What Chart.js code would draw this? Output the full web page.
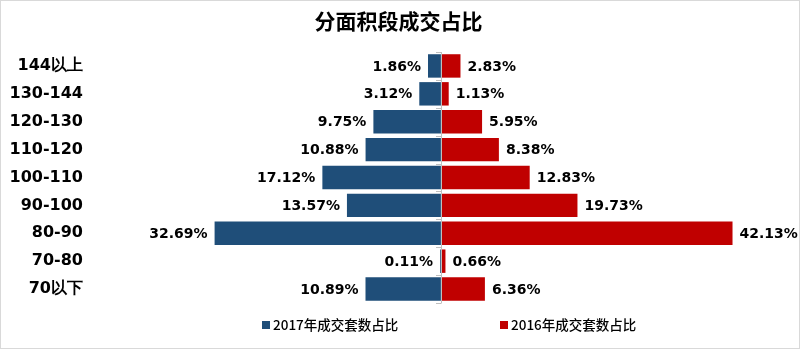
<!DOCTYPE html>
<html>
<head>
<meta charset="utf-8">
<script src="https://cdn.jsdelivr.net/npm/chart.js@4"></script>
<style>
  html, body { margin: 0; padding: 0; background: #fff; }
  #wrap { width: 800px; height: 349px; position: relative; }
</style>
</head>
<body>
<div id="wrap"><canvas id="c" width="800" height="349"></canvas></div>
<script>
// 面积段
const categories = ['144以上', '130-144', '120-130', '110-120', '100-110', '90-100', '80-90', '70-80', '70以下'];
const share2017 = [1.86, 3.12, 9.75, 10.88, 17.12, 13.57, 32.69, 0.11, 10.89];
const share2016 = [2.83, 1.13, 5.95, 8.38, 12.83, 19.73, 42.13, 0.66, 6.36];
const seriesNames = ['2017年成交套数占比', '2016年成交套数占比'];
const seriesColors = ['#1F4E79', '#C00000'];

const labelFont = 'bold 14px "DejaVu Sans", Verdana, sans-serif';

// 数值标签 + 中轴线 + 图例 + 外框
const extras = {
    id: 'extras',
    afterDatasetsDraw(chart) {
        const ctx = chart.ctx;
        const x = chart.scales.x;
        const x0 = Math.round(x.getPixelForValue(0));
        ctx.save();
        // 中轴线和刻度
        ctx.strokeStyle = '#BFBFBF';
        ctx.lineWidth = 1;
        ctx.beginPath();
        ctx.moveTo(x0 + 0.5, chart.chartArea.top);
        ctx.lineTo(x0 + 0.5, chart.chartArea.bottom);
        const step = (chart.chartArea.bottom - chart.chartArea.top) / categories.length;
        for (let i = 0; i <= categories.length; i++) {
            const yy = Math.round(chart.chartArea.top + i * step) + 0.5;
            ctx.moveTo(x0 - 5, yy);
            ctx.lineTo(x0 + 0.5, yy);
        }
        ctx.stroke();

        ctx.font = labelFont;
        ctx.fillStyle = '#000';
        ctx.textBaseline = 'middle';
        chart.data.datasets.forEach((ds, di) => {
            chart.getDatasetMeta(di).data.forEach((bar, i) => {
                const v = Math.abs(ds.data[i]);
                const txt = v.toFixed(2) + '%';
                if (ds.data[i] < 0) {
                    ctx.textAlign = 'right';
                    ctx.fillText(txt, bar.x - 7, bar.y + 1);
                } else {
                    ctx.textAlign = 'left';
                    ctx.fillText(txt, bar.x + 7, bar.y + 1);
                }
            });
        });

        // 图例
        ctx.font = '500 13.5px "Noto Sans CJK SC", sans-serif';
        ctx.textAlign = 'left';
        const legendY = 325;
        const legendX = [262, 500];
        seriesNames.forEach((name, i) => {
            ctx.fillStyle = seriesColors[i];
            ctx.fillRect(legendX[i], legendY - 4, 8, 8);
            ctx.fillStyle = '#000';
            ctx.fillText(name, legendX[i] + 11, legendY);
        });

        ctx.strokeStyle = '#D9D9D9';
        ctx.strokeRect(0.5, 0.5, chart.width - 1, chart.height - 1);
        ctx.restore();
    }
};

new Chart(document.getElementById('c').getContext('2d'), {
    type: 'bar',
    data: {
        labels: categories,
        datasets: [
            {
                label: seriesNames[0],
                data: share2017.map(v => -v),
                backgroundColor: seriesColors[0],
                borderWidth: 0
            },
            {
                label: seriesNames[1],
                data: share2016,
                backgroundColor: seriesColors[1],
                borderWidth: 0
            }
        ]
    },
    options: {
        indexAxis: 'y',
        responsive: false,
        animation: false,
        barPercentage: 0.84,
        categoryPercentage: 1,
        layout: { padding: { left: 10, right: 13, top: 0, bottom: 46 } },
        plugins: {
            legend: { display: false },
            tooltip: { enabled: false },
            title: {
                display: true,
                text: '分面积段成交占比',
                color: '#000',
                font: { size: 21, weight: 'bold', lineHeight: 1, family: '"Noto Sans CJK SC", sans-serif' },
                padding: { top: 11, bottom: 20 }
            }
        },
        scales: {
            x: {
                stacked: true,
                min: -51.7,
                max: 50,
                display: false,
                grid: { display: false }
            },
            y: {
                stacked: true,
                grid: { display: false, drawTicks: false },
                border: { display: false },
                afterFit(scale) { scale.width = 73; },
                ticks: {
                    color: '#000',
                    padding: 0,
                    font: { size: 16, weight: 'bold', family: '"DejaVu Sans", Verdana, sans-serif' }
                }
            }
        }
    },
    plugins: [extras]
});
</script>
</body>
</html>
